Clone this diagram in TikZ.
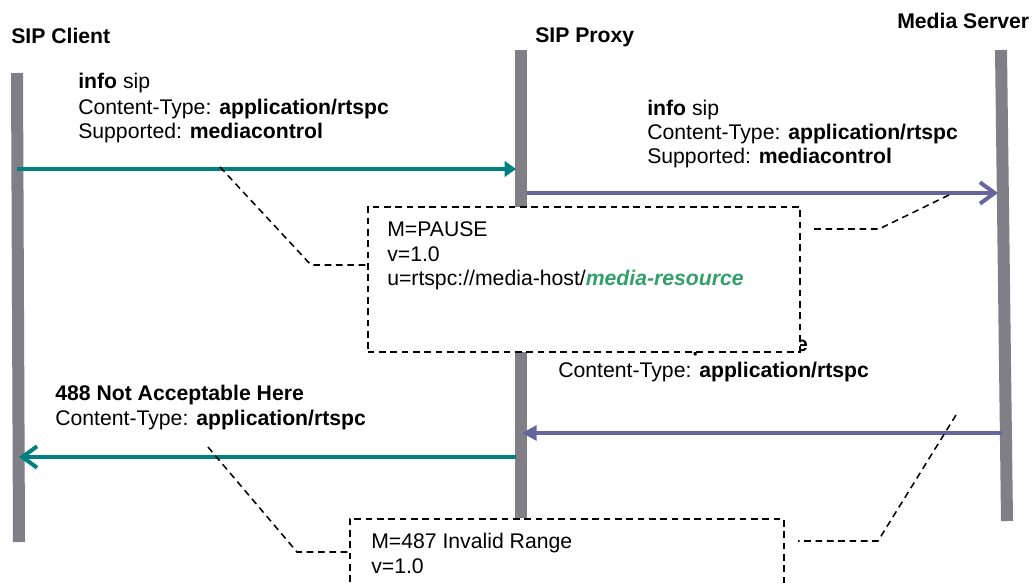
\documentclass[tikz,border=0pt]{standalone}
\usepackage{fontspec}
\setmainfont{Liberation Sans}
\usetikzlibrary{arrows.meta}
\definecolor{tealc}{RGB}{0,128,128}
\definecolor{purplec}{RGB}{102,102,158}
\definecolor{lifec}{RGB}{127,127,133}
\definecolor{greenc}{RGB}{51,160,106}
\newcommand\dfont{\fontsize{15.9pt}{18.4pt}\selectfont}
\tikzset{
  lbl/.style={anchor=base west, inner sep=0pt, font=\dfont},
  lifeline/.style={draw=lifec, line width=9pt, line cap=butt},
  tealmsg/.style={draw=tealc, line width=3pt},
  purplemsg/.style={draw=purplec, line width=3pt},
  callout/.style={draw=black, line width=1.15pt, dash pattern=on 5pt off 3.5pt},
  notebox/.style={draw=black, line width=1.15pt, dash pattern=on 5pt off 3.5pt, fill=white, inner sep=0pt, anchor=north west},
}
\begin{document}
\begin{tikzpicture}[x=0.75pt, y=-0.75pt]
\useasboundingbox[fill=white] (0,0) rectangle (1034,585);
% headers
\node[lbl, font=\dfont\bfseries] (hclient) at (11,44) {SIP Client};
\node[lbl, font=\dfont\bfseries] (hproxy) at (535,43) {SIP Proxy};
\node[lbl, font=\dfont\bfseries] (hmedia) at (897,29) {Media Server};
% lifelines
\coordinate (cTop) at (17,73);   \coordinate (cBot) at (19,542);
\coordinate (pTop) at (521,50);  \coordinate (pBot) at (521,518);
\coordinate (mTop) at (1001,50); \coordinate (mBot) at (1007,521);
\draw[lifeline] (cTop) -- (cBot);
\draw[lifeline] (pTop) -- (pBot);
\draw[lifeline] (mTop) -- (mBot);
% message endpoints
\coordinate (a1s) at (17,169);  \coordinate (a1e) at (516,169);
\coordinate (a2s) at (527,193); \coordinate (a2e) at (998,193);
\coordinate (a3s) at (1002,433); \coordinate (a3e) at (522,433);
\coordinate (a4s) at (516,457); \coordinate (a4e) at (19,457);
\draw[tealmsg, -{Triangle[length=8.5pt,width=11.5pt]}] (a1s) -- (a1e);
\draw[purplemsg, -{Straight Barb[length=11pt,width=16pt]}] (a2s) -- (a2e);
\draw[purplemsg, -{Triangle[length=11pt,width=11pt]}] (a3s) -- (a3e);
\draw[tealmsg, -{Straight Barb[length=11pt,width=16pt]}] (a4s) -- (a4e);
% message 1 label
\node[lbl] (m1a) at (78,89) {\textbf{info} sip};
\node[lbl] (m1b) at (78,114) {Content-Type: \textbf{application/rtspc}};
\node[lbl] (m1c) at (78,138) {Supported: \textbf{mediacontrol}};
% message 2 label
\node[lbl] (m2a) at (647,115) {\textbf{info} sip};
\node[lbl] (m2b) at (647,139) {Content-Type: \textbf{application/rtspc}};
\node[lbl] (m2c) at (647,163) {Supported: \textbf{mediacontrol}};
% message 3 label (partly hidden by the box)
\node[lbl, font=\dfont\bfseries] (m3a) at (559,351) {488 Not Acceptable Here};
\node[lbl] (m3b) at (558,377) {Content-Type: \textbf{application/rtspc}};
% message 4 label
\node[lbl, font=\dfont\bfseries] (m4a) at (55,400) {488 Not Acceptable Here};
\node[lbl] (m4b) at (55,425) {Content-Type: \textbf{application/rtspc}};
% box 1
\node[notebox, minimum width=324pt, minimum height=108.75pt] (box1) at (367,206) {};
\node[lbl] (b1a) at (387,236) {M=PAUSE};
\node[lbl] (b1b) at (387,261) {v=1.0};
\node[lbl] (b1c) at (387,285) {u=rtspc://media-host/\textcolor{greenc}{\bfseries\itshape media-resource}};
% box 2
\node[notebox, minimum width=325.5pt, minimum height=63pt] (box2) at (349,518) {};
\node[lbl] (b2a) at (371,548) {M=487 Invalid Range};
\node[lbl] (b2b) at (371,573) {v=1.0};
% callouts
\coordinate (k1a) at (220,167); \coordinate (k1b) at (311,265);
\draw[callout] (k1a) -- (k1b) -- (k1b -| box1.west);
\coordinate (k2a) at (949,195); \coordinate (k2b) at (879,229); \coordinate (k2c) at (814,229);
\draw[callout] (k2a) -- (k2b) -- (k2c);
\coordinate (k3a) at (208,447); \coordinate (k3b) at (297,552);
\draw[callout] (k3a) -- (k3b) -- (k3b -| box2.west);
\coordinate (k4a) at (956,415); \coordinate (k4b) at (878,541); \coordinate (k4c) at (798,541);
\draw[callout] (k4a) -- (k4b) -- (k4c);
\end{tikzpicture}
\end{document}
